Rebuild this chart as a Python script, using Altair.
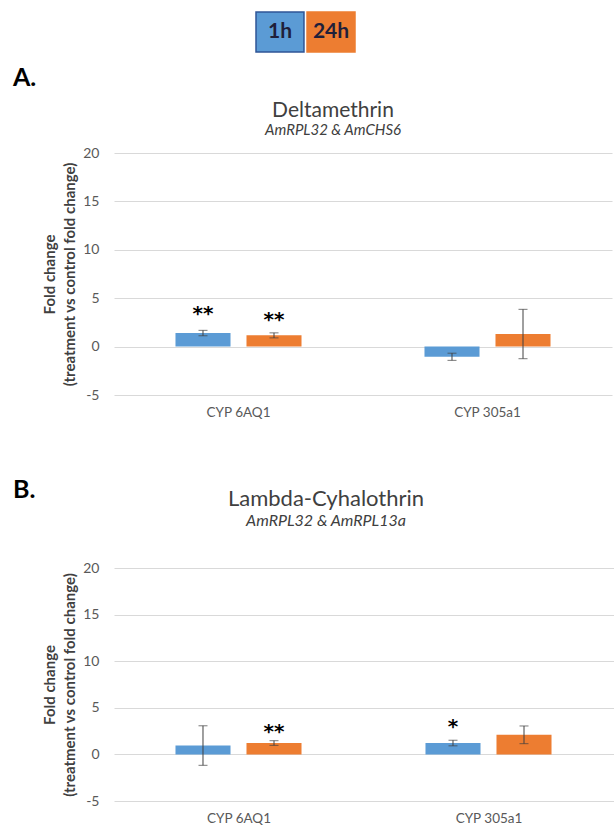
import altair as alt
import pandas as pd

# ---------------- data ----------------
genes = ["CYP 6AQ1", "CYP 305a1"]
times = ["1h", "24h"]
bar_colors = ["#5B9BD5", "#ED7D31"]
edge_colors = ["#2F5597", "#ED7D31"]
panel_labels = ["A.", "B."]

titles = ["Deltamethrin", "Lambda-Cyhalothrin"]
subtitles = ["AmRPL32 & AmCHS6", "AmRPL32 & AmRPL13a"]
y_title = ["Fold change", "(treatment vs control fold change)"]
y_ticks = [-5, 0, 5, 10, 15, 20]

# panel A (Deltamethrin): order = 6AQ1-1h, 6AQ1-24h, 305a1-1h, 305a1-24h
a_mean = [1.40, 1.16, -1.05, 1.30]
a_err = [0.28, 0.26, 0.37, 2.55]
a_sig = ["**", "**", "", ""]
a_sig_y = [3.85, 3.25, 0, 0]

# panel B (Lambda-Cyhalothrin)
b_mean = [0.95, 1.22, 1.22, 2.10]
b_err = [2.12, 0.25, 0.30, 0.95]
b_sig = ["", "**", "*", ""]
b_sig_y = [0, 2.90, 3.50, 0]

FONT = "Lato"
TEXT = "#404040"
TICK = "#595959"
GRID = "#D9D9D9"


def panel(mean, err, sig, sig_y, title, subtitle, width, height,
          offset, dx, pin, pout, tsize, ssize):
    df = pd.DataFrame({
        "gene": [g for g in genes for _ in times],
        "time": [t for _ in genes for t in times],
        "mean": mean, "err": err, "sig": sig, "sig_y": sig_y,
    })
    yscale = alt.Scale(domain=[y_ticks[0], y_ticks[-1]], nice=False, zero=False)
    yaxis = alt.Axis(values=y_ticks, title=y_title, grid=True, gridColor=GRID,
                     domain=False, ticks=False, labelPadding=15,
                     labelExpr="'' + datum.value",
                     labelFont=FONT, labelFontSize=14, labelColor=TICK,
                     titleFont=FONT, titleFontSize=15, titleFontWeight="bold",
                     titleColor=TEXT, titleLineHeight=20, titlePadding=5)
    base = alt.Chart(df).encode(
        x=alt.X("gene:N", sort=genes,
                scale=alt.Scale(paddingInner=0, paddingOuter=0),
                axis=alt.Axis(title=None, labelAngle=0, domain=False, ticks=False,
                              labelPadding=10, labelFont=FONT, labelFontSize=13.5,
                              labelColor=TICK)),
        xOffset=alt.XOffset("time:N", sort=times,
                            scale=alt.Scale(paddingInner=pin, paddingOuter=pout)),
    )
    bars = base.mark_bar().encode(
        y=alt.Y("mean:Q", scale=yscale, axis=yaxis),
        y2=alt.datum(0),
        color=alt.Color("time:N", sort=times,
                        scale=alt.Scale(domain=times, range=bar_colors), legend=None),
    )
    eb = base.transform_calculate(lo="datum.mean - datum.err",
                                  hi="datum.mean + datum.err")
    rule = eb.mark_rule(color=TEXT, strokeWidth=1).encode(
        y=alt.Y("lo:Q", scale=yscale, axis=yaxis), y2="hi:Q")
    cap_lo = eb.mark_tick(color=TEXT, thickness=1, size=9, orient="horizontal").encode(
        y=alt.Y("lo:Q", scale=yscale, axis=yaxis))
    cap_hi = eb.mark_tick(color=TEXT, thickness=1, size=9, orient="horizontal").encode(
        y=alt.Y("hi:Q", scale=yscale, axis=yaxis))
    stars = base.transform_filter("datum.sig != ''").mark_text(
        font="DejaVu Sans", fontWeight="bold", fontSize=20, color="black",
        baseline="alphabetic", dy=11).encode(
        y=alt.Y("sig_y:Q", scale=yscale, axis=yaxis), text="sig:N")
    return alt.layer(bars, rule, cap_lo, cap_hi, stars).properties(
        width=width, height=height,
        title=alt.TitleParams(text=title, subtitle=subtitle, font=FONT, fontSize=tsize,
                              fontWeight="normal", color=TEXT, subtitleFont=FONT,
                              subtitleFontSize=ssize, subtitleFontStyle="italic",
                              subtitleColor=TEXT, subtitlePadding=2, anchor="middle",
                              frame="group", offset=offset, dx=dx))


pa = panel(a_mean, a_err, a_sig, a_sig_y, titles[0], subtitles[0],
           498, 242, 8, -30, 0.225, 0.866, 21, 15)
pb = panel(b_mean, b_err, b_sig, b_sig_y, titles[1], subtitles[1],
           500, 233, 31, -38, 0.214, 0.831, 22, 16)

# ---------------- header with the legend boxes and "A." ----------------
legend_df = pd.DataFrame({"time": times, "row": ["k", "k"]})
lx = alt.X("time:N", sort=times,
           scale=alt.Scale(domain=times, range=[142, 241], paddingInner=0.06,
                           paddingOuter=0), axis=None)
ly = alt.Y("row:N", scale=alt.Scale(range=[0, 40], padding=0), axis=None)
leg_rect = alt.Chart(legend_df).mark_rect(strokeWidth=1.5).encode(
    x=lx, y=ly,
    color=alt.Color("time:N", scale=alt.Scale(domain=times, range=bar_colors), legend=None),
    stroke=alt.Stroke("time:N", scale=alt.Scale(domain=times, range=edge_colors), legend=None),
)
leg_text = alt.Chart(legend_df).mark_text(
    font=FONT, fontWeight="bold", fontSize=21, color="#1F1F3A").encode(
    x=lx, y=ly, text="time:N")


def letter(lab, ypos):
    return alt.Chart(pd.DataFrame({"lab": [lab]})).mark_text(
        align="left", baseline="middle", font=FONT, fontWeight="bold",
        fontSize=25, color="black").encode(
        text="lab:N", x=alt.value(-101), y=alt.value(ypos))


header1 = alt.layer(leg_rect, leg_text, letter(panel_labels[0], 66)).properties(
    width=498, height=138.7)
header2 = letter(panel_labels[1], 93.3).properties(width=498, height=168.3)

chart = alt.vconcat(header1, pa, header2, pb, spacing=2, bounds="flush").properties(
    padding={"left": 13, "top": 11, "right": 0, "bottom": 2}
).configure(font=FONT, background="white").configure_view(stroke=None)

chart.save("out.html", embed_options={"renderer": "svg", "actions": False})
